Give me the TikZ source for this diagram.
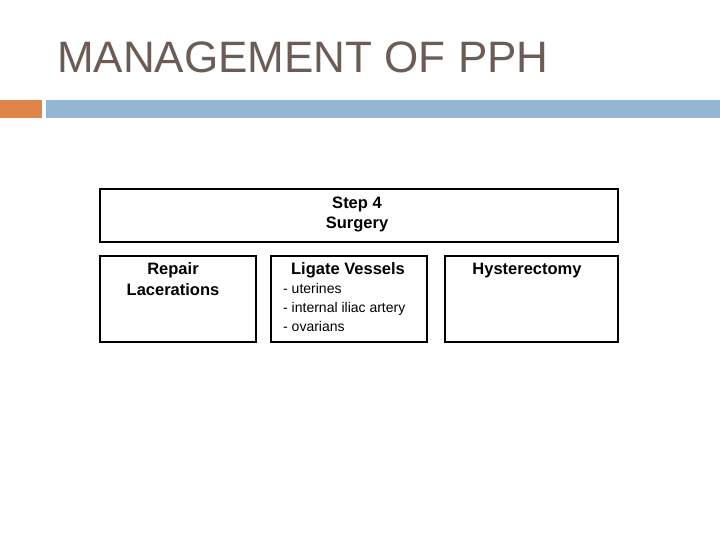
\documentclass[tikz,border=0pt]{standalone}
\usepackage{fontspec}
\setmainfont{Liberation Sans}
\definecolor{titlecol}{RGB}{107,93,86}
\definecolor{orangebar}{RGB}{224,132,74}
\definecolor{bluebar}{RGB}{148,182,210}
\tikzset{
  box/.style={draw=black, line width=2pt, inner sep=0pt, anchor=north west},
  head/.style={anchor=base, font=\bfseries\fontsize{16.5}{18}\selectfont, inner sep=0pt},
  item/.style={anchor=base west, font=\fontsize{14}{16}\selectfont, inner sep=0pt}
}
\begin{document}
\begin{tikzpicture}[x=1pt,y=-1pt]
\useasboundingbox (0,0) rectangle (720,540);
\fill[white] (0,0) rectangle (720,540);
% title
\node[anchor=base west, inner sep=0pt, text=titlecol, font=\fontsize{44}{48}\selectfont] (title) at (57,73) {MANAGEMENT OF PPH};
% bars
\fill[orangebar] (0,100) rectangle (42,118);
\fill[bluebar] (46,100) rectangle (720,118);
% boxes
\node[box, minimum width=518pt, minimum height=53pt] (top) at (99,188) {};
\node[box, minimum width=156pt, minimum height=86pt] (repair) at (99,255) {};
\node[box, minimum width=156pt, minimum height=86pt] (ligate) at (270,255) {};
\node[box, minimum width=173pt, minimum height=86pt] (hyst) at (444,255) {};
% texts
\node[head] (t1) at (357,208) {Step 4};
\node[head] (t2) at (357,229) {Surgery};
\node[head] (r1) at (173,274) {Repair};
\node[head] (r2) at (173,295) {Lacerations};
\node[head] (l1) at (348,274) {Ligate Vessels};
\node[item] (l2) at (283,293) {- uterines};
\node[item] (l3) at (283,312) {- internal iliac artery};
\node[item] (l4) at (283,331) {- ovarians};
\node[head] (h1) at (527,274) {Hysterectomy};
\end{tikzpicture}
\end{document}
